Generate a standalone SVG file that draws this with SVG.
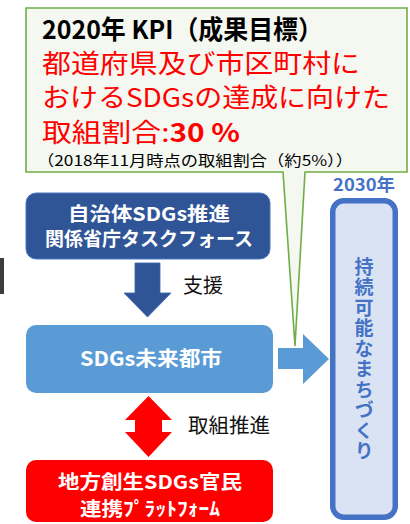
<svg xmlns="http://www.w3.org/2000/svg" width="410" height="524" viewBox="0 0 410 524">
<style>
text{font-family:"Noto Sans CJK JP","Noto Sans",sans-serif}
.w{fill:#fff;font-weight:bold;text-anchor:middle}
.lbl{fill:#111;font-size:20px}
.red{fill:#ff0000;font-size:26px}
</style>
<rect width="410" height="524" fill="#fff"/>
<rect x="0" y="258" width="4" height="36" fill="#3c3c3c"/>

<g id="callout">
<path d="M26,8 H407 V172 H305 L295,346 L283,172 H26 Z" fill="#f4f8f1" stroke="#70ad47" stroke-width="1.6" stroke-linejoin="miter"/>
<text x="42" y="39" font-size="26" font-weight="bold" fill="#000" textLength="281" lengthAdjust="spacingAndGlyphs">2020年 KPI（成果目標）</text>
<text class="red" x="42" y="73" textLength="318" lengthAdjust="spacingAndGlyphs">都道府県及び市区町村に</text>
<text class="red" x="42" y="107" textLength="348" lengthAdjust="spacingAndGlyphs">おけるSDGsの達成に向けた</text>
<text class="red" x="42" y="142" textLength="198" lengthAdjust="spacingAndGlyphs">取組割合:<tspan font-weight="bold">30 %</tspan></text>
<text x="37" y="166" font-size="15" fill="#000" textLength="316" lengthAdjust="spacingAndGlyphs">（2018年11月時点の取組割合（約5%））</text>
</g>

<g id="connectors">
<path d="M135,263 H160 V293 H171 L147.5,317 L124,293 H135 Z" fill="#2f5597" stroke="#3a66ae" stroke-width="0.8"/>
<path d="M148.5,396 L172,420 H162 V432 H172 L148.5,457 L125,432 H135 V420 H125 Z" fill="#ff0000"/>
<path d="M278,348 H303 V334 L329,359 L303,384 V369 H278 Z" fill="#5b9bd5"/>
<text class="lbl" x="183" y="293" textLength="40" lengthAdjust="spacingAndGlyphs">支援</text>
<text class="lbl" x="188" y="433" textLength="82" lengthAdjust="spacingAndGlyphs">取組推進</text>
</g>

<g id="taskforce">
<rect x="26" y="193" width="244" height="66" rx="10" fill="#2f5597" stroke="#4a78c4" stroke-width="1"/>
<text class="w" x="149" y="221" font-size="19" textLength="162" lengthAdjust="spacingAndGlyphs">自治体SDGs推進</text>
<text class="w" x="149" y="246" font-size="19" textLength="208" lengthAdjust="spacingAndGlyphs">関係省庁タスクフォース</text>
</g>

<g id="future-city">
<rect x="26" y="325" width="247" height="68" rx="10" fill="#5b9bd5"/>
<text class="w" x="151" y="366" font-size="20" textLength="142" lengthAdjust="spacingAndGlyphs">SDGs未来都市</text>
</g>

<g id="platform">
<rect x="26" y="460" width="247" height="62" rx="10" fill="#ff0000"/>
<text class="w" x="150" y="489" font-size="19" textLength="184" lengthAdjust="spacingAndGlyphs">地方創生SDGs官民</text>
<text class="w" x="150" y="516" font-size="19" textLength="140" lengthAdjust="spacingAndGlyphs">連携ﾌﾟﾗｯﾄﾌｫｰﾑ</text>
</g>

<g id="goal-2030">
<text x="364" y="190.5" font-size="17" font-weight="bold" fill="#4472c4" text-anchor="middle" textLength="62" lengthAdjust="spacingAndGlyphs">2030年</text>
<rect x="332.75" y="200.75" width="62.5" height="316.5" rx="11" fill="#dae3f3" stroke="#4472c4" stroke-width="5.5"/>
<text x="364" y="257" font-size="19" font-weight="bold" fill="#4472c4" style="writing-mode:vertical-rl" letter-spacing="1.5">持続可能なまちづくり</text>
</g>
</svg>
